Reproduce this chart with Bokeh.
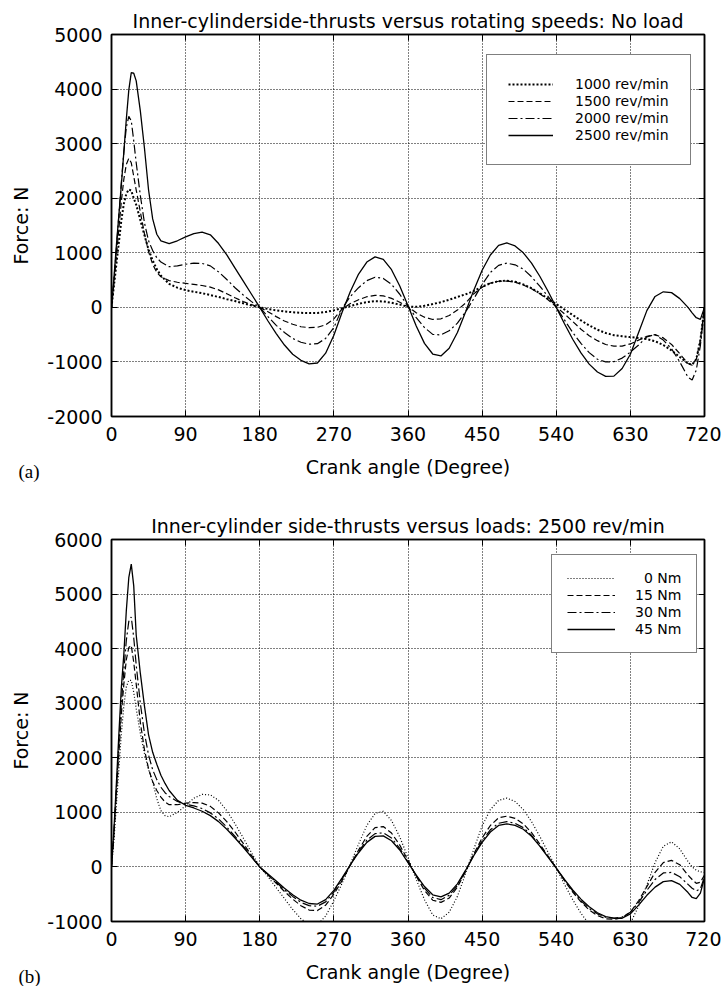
from bokeh.plotting import figure
from bokeh.models import (LinearAxis, FixedTicker, Legend, LegendItem, Title, Range1d)
from bokeh.layouts import column
from bokeh.embed import file_html
from bokeh.resources import INLINE

FONT = "DejaVu Sans"

# ---------------- data ----------------
x_ticks = [0, 90, 180, 270, 360, 450, 540, 630, 720]
x_tick_labels = ["0", "90", "180", "270", "360", "450", "540", "630", "720"]

# (a) no load, four speeds
ang_a = [0, 3, 6, 9, 12, 15, 18, 21, 24, 27, 30, 35, 40, 45, 50, 55, 60,
         70, 80, 90, 100, 110, 120, 130, 140, 150, 160, 170, 180,
         190, 200, 210, 220, 230, 240, 250, 260, 270, 280,
         290, 300, 310, 320, 330, 340, 350, 360,
         370, 380, 390, 400, 410, 420, 430,
         440, 450, 460, 470, 480, 490, 500, 510, 520, 530, 540,
         550, 560, 570, 580, 590, 600, 610, 620, 630, 640, 650,
         660, 670, 680, 690, 700, 705, 710, 715, 720]

rpm1000 = [0, 400, 800, 1200, 1600, 1900, 2080, 2160, 2140, 2000, 1880,
           1600, 1320, 1060, 860, 700, 580,
           430, 360, 315, 285, 260, 225, 190, 150, 115, 75, 35, 0,
           -30, -55, -75, -90, -100, -105, -103, -85, -55, -15,
           25, 65, 95, 113, 108, 85, 50, 10,
           10, 30, 60, 95, 140, 190, 240,
           300, 380, 440, 480, 490, 470, 420, 350, 260, 160, 60,
           -40, -140, -240, -330, -410, -470, -510, -530, -545, -560, -580,
           -620, -690, -790, -910, -1030,
           -1050, -950, -600, 0]

rpm1500 = [0, 450, 950, 1450, 1950, 2350, 2620, 2730, 2650, 2400, 2150,
           1750, 1350, 1020, 790, 640, 560,
           490, 460, 440, 420, 400, 370, 320, 250, 175, 105, 50, 0,
           -80, -170, -250, -310, -355, -372, -365, -320, -210, -30,
           70, 140, 195, 220, 210, 165, 95, 10,
           -100, -180, -222, -210, -150, -50, 80,
           250, 370, 445, 478, 482, 462, 410, 340, 250, 140, 10,
           -120, -260, -400, -520, -610, -680, -710, -710, -670, -600, -530,
           -500, -560, -680, -850, -1030,
           -1060, -950, -600, 0]

rpm2000 = [0, 500, 1100, 1700, 2300, 2850, 3300, 3500, 3420, 3050, 2650,
           2050, 1550, 1220, 1040, 910, 830,
           745, 760, 790, 812, 805, 760, 650, 510, 360, 225, 105, 0,
           -170, -330, -460, -570, -640, -675, -665, -570, -370, -20,
           200, 360, 490, 553, 530, 420, 240, 20,
           -190, -370, -495, -505, -430, -290, -80,
           160, 420, 640, 770, 810, 780, 700, 560, 390, 200, 0,
           -230, -460, -660, -830, -950, -1000, -995, -930, -820, -690, -540,
           -500, -600, -760, -1000, -1280,
           -1330, -1150, -700, 0]

rpm2500 = [0, 550, 1150, 1700, 2250, 2850, 3450, 3980, 4300, 4290, 4150,
           3600, 2920, 2150, 1620, 1340, 1220,
           1170, 1220, 1290, 1350, 1380, 1330, 1170, 960, 720, 480, 240, 0,
           -250, -480, -690, -860, -970, -1035, -1020, -840, -510, -90,
           290, 610, 830, 925, 880, 690, 390, 30,
           -340, -660, -855, -890, -750, -460, -80,
           320, 680, 960, 1135, 1180, 1125, 1000, 810, 570, 295, 0,
           -300, -585, -835, -1040, -1185, -1265, -1260, -1120, -860, -460, -60,
           200, 285, 270, 160, 0,
           -100, -190, -220, 0]

y_ticks_a = [-2000, -1000, 0, 1000, 2000, 3000, 4000, 5000]
y_tick_labels_a = ["-2000", "-1000", "0", "1000", "2000", "3000", "4000", "5000"]

# (b) 2500 rev/min, four loads
ang_b = [0, 3, 6, 9, 12, 15, 18, 21, 24, 27, 30, 35, 40, 45, 50, 55, 60, 65,
         70, 80, 90, 100, 110, 120, 130, 140, 150, 160, 170, 180,
         190, 200, 210, 220, 230, 240, 250, 260, 270, 280,
         290, 300, 310, 320, 330, 340, 350, 360,
         370, 380, 390, 400, 410, 420, 430,
         440, 450, 460, 470, 480, 490, 500, 510, 520, 530, 540,
         550, 560, 570, 580, 590, 600, 610, 620, 630, 640, 650,
         660, 670, 680, 690, 700, 705, 710, 715, 720]

load0 = [0, 500, 1150, 1800, 2450, 2950, 3300, 3420, 3420, 3200, 2900,
         2450, 2080, 1780, 1560, 1250, 1030, 940,
         920, 1000, 1120, 1260, 1330, 1320, 1220, 1030, 790, 530, 260, 0,
         -180, -380, -580, -780, -950, -1060, -1060, -900, -620, -300,
         50, 420, 760, 980, 1020, 850, 550, 170,
         -230, -600, -880, -950, -830, -540, -120,
         330, 750, 1050, 1220, 1260, 1200, 1050, 830, 560, 270, -20,
         -320, -600, -850, -1050, -1180, -1250, -1260, -1200, -1030, -720, -330,
         80, 380, 460, 330, 100,
         0, -60, -90, -100]

load15 = [0, 600, 1350, 2100, 2800, 3350, 3800, 4020, 4060, 3750, 3350,
          2650, 2150, 1800, 1560, 1400, 1280, 1190,
          1140, 1140, 1170, 1180, 1170, 1110, 990, 830, 640, 430, 210, 0,
          -150, -300, -450, -590, -710, -790, -800, -700, -500, -250,
          30, 310, 560, 720, 740, 620, 400, 120,
          -170, -430, -610, -650, -570, -370, -80,
          240, 530, 760, 900, 930, 890, 790, 630, 420, 200, -20,
          -250, -460, -640, -790, -890, -950, -960, -930, -830, -620, -360,
          -100, 80, 120, 40, -150,
          -230, -300, -280, -150]

load30 = [0, 650, 1450, 2250, 3000, 3600, 4150, 4500, 4580, 4200, 3700,
          3000, 2450, 2050, 1780, 1600, 1460, 1360,
          1290, 1200, 1150, 1120, 1070, 990, 880, 730, 560, 380, 190, 0,
          -140, -280, -420, -540, -650, -710, -720, -640, -460, -220,
          40, 280, 490, 610, 625, 530, 340, 90,
          -160, -390, -560, -600, -520, -340, -70,
          220, 480, 680, 800, 830, 800, 720, 580, 390, 190, -20,
          -240, -440, -620, -760, -860, -920, -940, -920, -830, -650, -430,
          -230, -110, -100, -180, -320,
          -390, -440, -400, -180]

load45 = [0, 700, 1550, 2450, 3300, 3900, 4700, 5300, 5550, 5150, 4250,
          3550, 2950, 2420, 2100, 1880, 1680, 1530,
          1400, 1220, 1130, 1080, 1020, 940, 830, 690, 530, 360, 180, 0,
          -130, -260, -390, -510, -610, -670, -680, -600, -430, -200,
          40, 260, 450, 560, 570, 480, 310, 80,
          -150, -360, -510, -550, -480, -310, -60,
          210, 450, 640, 760, 790, 760, 690, 560, 380, 180, -20,
          -230, -420, -590, -730, -840, -910, -940, -940, -860, -700, -520,
          -370, -270, -250, -320, -470,
          -560, -580, -480, -200]

y_ticks_b = [-1000, 0, 1000, 2000, 3000, 4000, 5000, 6000]
y_tick_labels_b = ["-1000", "0", "1000", "2000", "3000", "4000", "5000", "6000"]

# ---------------- styling helpers ----------------
def build(title, ang, series, y_lo, y_hi, y_ticks, y_tick_labels,
          frame_top, frame_h, border_bottom, legend_loc, legend_pad,
          glyph_w, label_standoff, tag):
    p = figure(width=721, height=frame_top + frame_h + border_bottom,
               x_range=Range1d(0, 720), y_range=Range1d(y_lo, y_hi),
               output_backend="svg", toolbar_location=None,
               min_border_left=111, min_border_right=17,
               min_border_top=frame_top, min_border_bottom=border_bottom)
    p.background_fill_color = "white"
    p.border_fill_color = "white"
    p.outline_line_color = "black"
    p.outline_line_width = 1.5

    p.title.text = title
    p.title.text_font = FONT
    p.title.text_font_size = "19px"
    p.title.text_font_style = "normal"
    p.title.text_color = "black"
    p.title.align = "center"
    p.title.standoff = 5

    # main axes
    xa = p.xaxis[0]
    ya = p.yaxis[0]
    xa.ticker = FixedTicker(ticks=x_ticks)
    xa.major_label_overrides = {t: s for t, s in zip(x_ticks, x_tick_labels)}
    ya.ticker = FixedTicker(ticks=y_ticks)
    ya.major_label_overrides = {t: s for t, s in zip(y_ticks, y_tick_labels)}
    for ax in (xa, ya):
        ax.major_tick_in = 6
        ax.major_tick_out = 0
        ax.minor_tick_line_color = None
        ax.axis_line_width = 1.5
        ax.major_tick_line_width = 1
        ax.major_label_text_font = FONT
        ax.major_label_text_font_size = "19px"
        ax.major_label_text_color = "black"
        ax.axis_label_text_font = FONT
        ax.axis_label_text_font_size = "19px"
        ax.axis_label_text_font_style = "normal"
        ax.axis_label_text_color = "black"
    xa.axis_label = "Crank angle (Degree)"
    xa.major_label_standoff = 10
    xa.axis_label_standoff = 12
    ya.axis_label = "Force: N"
    ya.major_label_standoff = 9
    ya.axis_label_standoff = 12

    # mirrored axes with inward ticks (no labels)
    ra = LinearAxis(ticker=FixedTicker(ticks=y_ticks),
                    major_label_overrides={t: "" for t in y_ticks},
                    major_label_text_font_size="1px", major_label_standoff=0,
                    major_tick_in=6, major_tick_out=0,
                    minor_tick_line_color=None, axis_line_width=1.5)
    ta = LinearAxis(ticker=FixedTicker(ticks=x_ticks),
                    major_label_overrides={t: "" for t in x_ticks},
                    major_label_text_font_size="1px", major_label_standoff=0,
                    major_tick_in=6, major_tick_out=0,
                    minor_tick_line_color=None, axis_line_width=1.5)
    p.add_layout(ra, "right")
    p.add_layout(ta, "above")

    for g in (p.xgrid[0], p.ygrid[0]):
        g.grid_line_color = "black"
        g.grid_line_dash = "1 2"
        g.grid_line_width = 1
    p.xgrid[0].ticker = FixedTicker(ticks=x_ticks)
    p.ygrid[0].ticker = FixedTicker(ticks=y_ticks)

    items = []
    for label, vals, dash, lw in series:
        r = p.line(ang, vals, line_color="black", line_width=lw, line_dash=dash)
        items.append(LegendItem(label=label, renderers=[r]))

    leg = Legend(items=items, location=legend_loc,
                 label_text_font=FONT, label_text_font_size="14px",
                 label_text_color="black",
                 padding=legend_pad, spacing=1, margin=0,
                 glyph_width=glyph_w, glyph_height=16, label_height=16,
                 label_standoff=label_standoff,
                 border_line_color="black", border_line_width=1,
                 background_fill_color="white", background_fill_alpha=1)
    p.add_layout(leg)

    # panel tag on the same row as the x-axis title, at the left edge
    tag_title = Title(text=tag, align="left", vertical_align="top",
                      offset=-93, standoff=-39,
                      text_font="Liberation Serif", text_font_size="19px",
                      text_font_style="normal", text_color="black")
    p.add_layout(tag_title, "below")
    return p


p1 = build("Inner-cylinderside-thrusts versus rotating speeds: No load",
           ang_a,
           [("1000 rev/min", rpm1000, "2 2", 2.0),
            ("1500 rev/min", rpm1500, "6 3", 1.2),
            ("2000 rev/min", rpm2000, "9 3 2 3", 1.2),
            ("2500 rev/min", rpm2500, "solid", 1.3)],
           -2000, 5000, y_ticks_a, y_tick_labels_a,
           frame_top=34, frame_h=382, border_bottom=74,
           legend_loc=(375, 251), legend_pad=21, glyph_w=45,
           label_standoff=22, tag="(a)")

p2 = build("Inner-cylinder side-thrusts versus loads: 2500 rev/min",
           ang_b,
           [("\u20070 Nm", load0, "1 2", 1.2),
            ("15 Nm", load15, "6 3", 1.2),
            ("30 Nm", load30, "9 3 2 3", 1.2),
            ("45 Nm", load45, "solid", 1.3)],
           -1000, 6000, y_ticks_b, y_tick_labels_b,
           frame_top=49, frame_h=382, border_bottom=65,
           legend_loc=(440, 268), legend_pad=15, glyph_w=48,
           label_standoff=20, tag="(b)")

layout = column(p1, p2, spacing=0)
open("out.html", "w").write(file_html(layout, INLINE))
